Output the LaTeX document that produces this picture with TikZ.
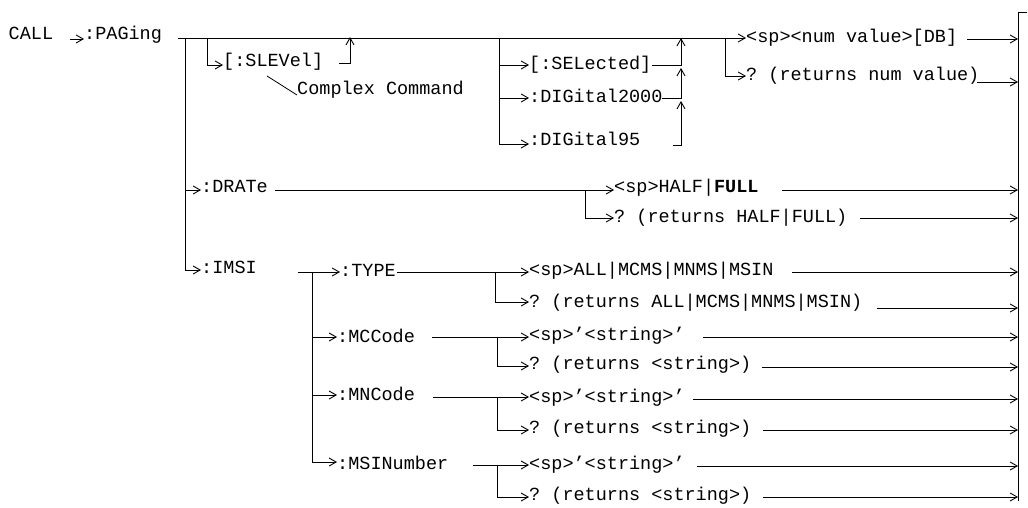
\documentclass[tikz,border=0pt]{standalone}
\usepackage{fontspec}
\setmonofont{Liberation Mono}
\usetikzlibrary{arrows.meta}
\begin{document}
\begin{tikzpicture}[x=1pt,y=-1pt,
  lbl/.style={inner sep=0pt, anchor=base west, font=\ttfamily\fontsize{18.5}{20}\selectfont},
  conn/.style={line width=0.9pt},
  arr/.style={conn, -{Straight Barb[length=7pt,width=8pt]}},
  leader/.style={line width=0.8pt}]
\useasboundingbox (0,0) rectangle (1028,508);
% ---------- texts ----------
\node[lbl] (call)    at (8.5,40)  {CALL};
\node[lbl] (paging)  at (84,40)   {:PAGing};
\node[lbl] (slevel)  at (223,67)  {[:SLEVel]};
\node[lbl] (complex) at (297,95)  {Complex Command};
\node[lbl] (sel)     at (529,70)  {[:SELected]};
\node[lbl] (dtwok)   at (529,103) {:DIGital2000};
\node[lbl] (dnine)   at (529,146) {:DIGital95};
\node[lbl] (numval)  at (746,43)  {<sp><num value>[DB]};
\node[lbl] (qnum)    at (746,81)  {? (returns num value)};
\node[lbl] (drate)   at (201,193) {:DRATe};
\node[lbl] (half)    at (614,193) {<sp>HALF|\textbf{FULL}};
\node[lbl] (qhalf)   at (614,222) {? (returns HALF|FULL)};
\node[lbl] (imsi)    at (201,273) {:IMSI};
\node[lbl] (type)    at (340,276) {:TYPE};
\node[lbl] (all)     at (529,275) {<sp>ALL|MCMS|MNMS|MSIN};
\node[lbl] (qall)    at (529,307) {? (returns ALL|MCMS|MNMS|MSIN)};
\node[lbl] (mcc)     at (337,342) {:MCCode};
\node[lbl] (mccs)    at (529,340) {<sp>’<string>’};
\node[lbl] (mccq)    at (529,369) {? (returns <string>)};
\node[lbl] (mnc)     at (337,400) {:MNCode};
\node[lbl] (mncs)    at (529,402) {<sp>’<string>’};
\node[lbl] (mncq)    at (529,433) {? (returns <string>)};
\node[lbl] (msi)     at (337,469) {:MSINumber};
\node[lbl] (msis)    at (529,469) {<sp>’<string>’};
\node[lbl] (msiq)    at (529,500) {? (returns <string>)};
% ---------- coordinates ----------
\coordinate (c0)  at (70,39);
\coordinate (m0)  at (178,38);
\coordinate (b0)  at (185,38);
\coordinate (bD)  at (185,190);
\coordinate (bI)  at (185,270);
\coordinate (s0)  at (207,38);
\coordinate (s1)  at (207,65);
\coordinate (s2)  at (339,63);
\coordinate (s3)  at (350,63);
\coordinate (s4)  at (350,37);
\coordinate (cx0) at (267,76);
\coordinate (cx1) at (297,95);
\coordinate (v0)  at (499,38);
\coordinate (vS)  at (499,65);
\coordinate (vT)  at (499,98);
\coordinate (vN)  at (499,144);
\coordinate (e1)  at (652,65);
\coordinate (f1)  at (681,65);
\coordinate (g1)  at (681,38);
\coordinate (e2)  at (662,98);
\coordinate (f2)  at (681,98);
\coordinate (g2)  at (681,68);
\coordinate (e3)  at (673,145);
\coordinate (f3)  at (681,145);
\coordinate (g3)  at (681,101);
\coordinate (n0)  at (725,38);
\coordinate (n1)  at (725,76);
\coordinate (bartop) at (1027,12);
\coordinate (barcorner) at (1018,12);
\coordinate (barbot) at (1018,501);
% DRATe
\coordinate (d0)  at (275,190);
\coordinate (d1)  at (585,190);
\coordinate (d2)  at (585,218);
% IMSI
\coordinate (i0)  at (298,272);
\coordinate (ib)  at (312,272);
\coordinate (iM)  at (312,337);
\coordinate (iN)  at (312,395);
\coordinate (iS)  at (312,462);
\coordinate (t0)  at (397,272);
\coordinate (t1)  at (495,272);
\coordinate (t2)  at (495,302);
\coordinate (mc0) at (432,337);
\coordinate (mc1) at (497,337);
\coordinate (mc2) at (497,366);
\coordinate (mn0) at (433,397);
\coordinate (mn1) at (497,397);
\coordinate (mn2) at (497,430);
\coordinate (ms0) at (473,465);
\coordinate (ms1) at (497,465);
\coordinate (ms2) at (497,497);
% out-line starts
\coordinate (o1)  at (967,39);
\coordinate (o2)  at (977,82);
\coordinate (o3)  at (782,190);
\coordinate (o4)  at (860,218);
\coordinate (o5)  at (792,272);
\coordinate (o6)  at (877,308);
\coordinate (o7)  at (703,337);
\coordinate (o8)  at (762,367);
\coordinate (o9)  at (693,399);
\coordinate (o10) at (763,430);
\coordinate (o11) at (697,466);
\coordinate (o12) at (763,497);
% ---------- connectors ----------
\draw[arr] (c0) -- (c0 -| paging.west);
\draw[arr] (m0) -- (m0 -| numval.west);
\draw[conn] (b0) -- (bD);
\draw[arr] (b0) |- (bI -| imsi.west);
\draw[arr] (bD) -- (bD -| drate.west);
% SLEVel
\draw[arr] (s0) |- (s1 -| slevel.west);
\draw[arr] (s2) -- (s3) -- (s4);
\draw[leader] (cx0) -- (cx1);
% SELected / DIGital
\draw[conn] (v0) -- (vT);
\draw[arr] (vS) -- (vS -| sel.west);
\draw[arr] (vT) -- (vT -| dtwok.west);
\draw[arr] (v0) |- (vN -| dnine.west);
\draw[arr] (e1) -- (f1) -- (g1);
\draw[arr] (e2) -- (f2) -- (g2);
\draw[arr] (e3) -- (f3) -- (g3);
% num value
\draw[arr] (n0) |- (n1 -| qnum.west);
% right bar
\draw[conn] (bartop) -- (barcorner) -- (barbot);
% DRATe
\draw[arr] (d0) -- (d0 -| half.west);
\draw[arr] (d1) |- (d2 -| qhalf.west);
% IMSI
\draw[arr] (i0) -- (i0 -| type.west);
\draw[conn] (ib) -- (iN);
\draw[arr] (iM) -- (iM -| mcc.west);
\draw[arr] (iN) -- (iN -| mnc.west);
\draw[arr] (ib) |- (iS -| msi.west);
\draw[arr] (t0) -- (t0 -| all.west);
\draw[arr] (t1) |- (t2 -| qall.west);
\draw[arr] (mc0) -- (mc0 -| mccs.west);
\draw[arr] (mc1) |- (mc2 -| mccq.west);
\draw[arr] (mn0) -- (mn0 -| mncs.west);
\draw[arr] (mn1) |- (mn2 -| mncq.west);
\draw[arr] (ms0) -- (ms0 -| msis.west);
\draw[arr] (ms1) |- (ms2 -| msiq.west);
% outputs to bar
\foreach \o in {o1,o2,o3,o4,o5,o6,o7,o8,o9,o10,o11,o12}
  \draw[arr] (\o) -- (\o -| barcorner);
\end{tikzpicture}
\end{document}
